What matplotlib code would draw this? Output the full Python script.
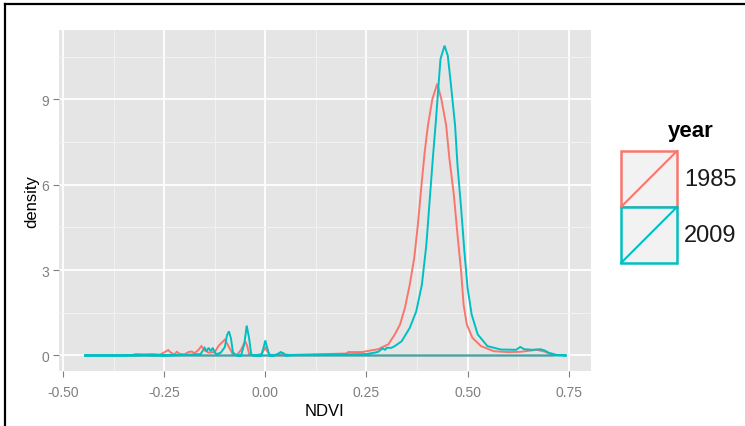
import matplotlib

matplotlib.use("Agg")
import matplotlib.pyplot as plt
from matplotlib.lines import Line2D
from matplotlib.patches import Rectangle

plt.rcParams["font.family"] = ["Liberation Sans", "DejaVu Sans"]

# density curves (NDVI, density)
ndvi_1985 = [
    -0.333, -0.32, -0.30, -0.28, -0.26, -0.245, -0.24, -0.235, -0.225, -0.219,
    -0.212, -0.20, -0.19, -0.182, -0.175, -0.165, -0.158, -0.15, -0.14, -0.125,
    -0.115, -0.10, -0.09, -0.08, -0.07, -0.06, -0.05, -0.045, -0.04, -0.03,
    -0.02, -0.01, -0.003, 0.0, 0.005, 0.012, 0.02, 0.04, 0.06, 0.10,
    0.15, 0.20, 0.205, 0.24, 0.25, 0.27, 0.279, 0.29, 0.304, 0.32,
    0.333, 0.345, 0.357, 0.368, 0.377, 0.386, 0.394, 0.402, 0.413, 0.425,
    0.435, 0.447, 0.455, 0.466, 0.475, 0.484, 0.49, 0.498, 0.512, 0.533,
    0.565, 0.60, 0.63, 0.66, 0.67, 0.68, 0.69, 0.70, 0.712,
]
dens_1985 = [
    0.0, 0.05, 0.04, 0.05, 0.03, 0.15, 0.19, 0.12, 0.03, 0.13,
    0.06, 0.04, 0.12, 0.14, 0.08, 0.20, 0.33, 0.18, 0.10, 0.12,
    0.35, 0.56, 0.30, 0.03, 0.02, 0.20, 0.50, 0.35, 0.05, 0.0,
    0.02, 0.05, 0.20, 0.27, 0.15, 0.02, 0.0, 0.05, 0.02, 0.03,
    0.05, 0.07, 0.12, 0.12, 0.15, 0.20, 0.22, 0.30, 0.39, 0.74,
    1.09, 1.67, 2.49, 3.42, 4.59, 5.99, 7.16, 8.09, 9.02, 9.55,
    9.02, 8.09, 6.92, 5.64, 4.24, 2.96, 1.79, 1.09, 0.62, 0.33,
    0.15, 0.12, 0.13, 0.18, 0.20, 0.17, 0.14, 0.08, 0.0,
]
ndvi_2009 = [
    -0.448, -0.40, -0.35, -0.30, -0.25, -0.20, -0.16, -0.15, -0.145, -0.14,
    -0.135, -0.13, -0.125, -0.12, -0.11, -0.10, -0.095, -0.09, -0.085, -0.08,
    -0.07, -0.06, -0.052, -0.046, -0.04, -0.035, -0.03, -0.01, -0.004, 0.0,
    0.004, 0.01, 0.02, 0.03, 0.038, 0.045, 0.05, 0.08, 0.15, 0.25,
    0.27, 0.279, 0.29, 0.296, 0.30, 0.312, 0.32, 0.337, 0.357, 0.373,
    0.387, 0.398, 0.406, 0.414, 0.422, 0.428, 0.433, 0.443, 0.451, 0.459,
    0.469, 0.475, 0.484, 0.492, 0.50, 0.51, 0.525, 0.549, 0.582, 0.62,
    0.63, 0.64, 0.66, 0.68, 0.69, 0.70, 0.72, 0.745,
]
dens_2009 = [
    0.0, 0.0, 0.0, 0.01, 0.0, 0.02, 0.05, 0.27, 0.15, 0.27,
    0.15, 0.27, 0.10, 0.05, 0.10, 0.30, 0.70, 0.85, 0.60, 0.10,
    0.0, 0.0, 0.40, 1.05, 0.60, 0.05, 0.0, 0.0, 0.30, 0.53,
    0.30, 0.0, 0.0, 0.05, 0.12, 0.08, 0.0, 0.02, 0.03, 0.05,
    0.10, 0.13, 0.25, 0.20, 0.27, 0.27, 0.33, 0.50, 0.97, 1.55,
    2.49, 3.89, 5.41, 6.92, 8.32, 9.49, 10.42, 10.89, 10.54, 9.49,
    8.09, 6.69, 5.17, 3.66, 2.37, 1.44, 0.74, 0.33, 0.21, 0.20,
    0.30, 0.22, 0.20, 0.22, 0.18, 0.10, 0.02, 0.0,
]
years = ["1985", "2009"]
colors = ["#F8766D", "#00BFC4"]

x_ticks = [-0.50, -0.25, 0.00, 0.25, 0.50, 0.75]
y_ticks = [0, 3, 6, 9]

fig = plt.figure(figsize=(7.45, 4.27), dpi=100)
ax = fig.add_axes([59 / 745, 1 - 372 / 427, 532 / 745, 341 / 427])
ax.set_facecolor("#E5E5E5")

series = [(ndvi_1985, dens_1985), (ndvi_2009, dens_2009)]
for (xs, ys), c in zip(series, colors):
    # density outline closed along the baseline, like geom_density
    ax.fill(xs, ys, facecolor="none", edgecolor=c, linewidth=1.4, zorder=3)

ax.set_xlim(-0.51, 0.805)
ax.set_ylim(-0.545, 11.44)
ax.set_xticks(x_ticks)
ax.set_xticklabels([f"{v:.2f}" for v in x_ticks])
ax.set_yticks(y_ticks)
ax.set_xticks([-0.375, -0.125, 0.125, 0.375, 0.625], minor=True)
ax.set_yticks([1.5, 4.5, 7.5, 10.5], minor=True)

ax.grid(True, which="major", color="white", linewidth=1.3, zorder=1)
ax.grid(True, which="minor", color="#F2F2F2", linewidth=0.7, zorder=1)
ax.set_axisbelow(True)
for s in ax.spines.values():
    s.set_visible(False)

ax.tick_params(which="major", length=4, width=0.8, color="#7F7F7F",
               labelcolor="#7F7F7F", labelsize=10, pad=3)
ax.tick_params(axis="x", which="major", pad=6)
ax.tick_params(which="minor", length=0)

ax.set_xlabel("NDVI", fontsize=12, color="black", labelpad=3)
ax.set_ylabel("density", fontsize=12, color="black", labelpad=2)

# legend drawn by hand in figure pixels
W, H = 745, 427
fig.text(691 / W, 1 - 131 / H, "year", fontsize=16, fontweight="bold",
         ha="center", va="center", color="black")
key_tops = [152, 208]
for (top, lab, c) in zip(key_tops, years, colors):
    x0, x1 = 621 / W, 677 / W
    y1, y0 = 1 - top / H, 1 - (top + 56) / H
    fig.add_artist(Rectangle((x0, y0), x1 - x0, y1 - y0, transform=fig.transFigure,
                             facecolor="#F2F2F2", edgecolor=c, linewidth=1.8))
    fig.add_artist(Line2D([x0, x1], [y0, y1], transform=fig.transFigure,
                          color=c, linewidth=1.5))
    fig.text(684 / W, (y0 + y1) / 2, lab, fontsize=17, ha="left", va="center",
             color="#1A1A1A")

# black frame (top and left edges visible in the reference)
fig.add_artist(Line2D([5 / W, 1.0], [1 - 5 / H, 1 - 5 / H],
                      transform=fig.transFigure, color="black", linewidth=1.6))
fig.add_artist(Line2D([5 / W, 5 / W], [0.0, 1 - 5 / H],
                      transform=fig.transFigure, color="black", linewidth=1.6))

fig.savefig("out.png", dpi=100)
